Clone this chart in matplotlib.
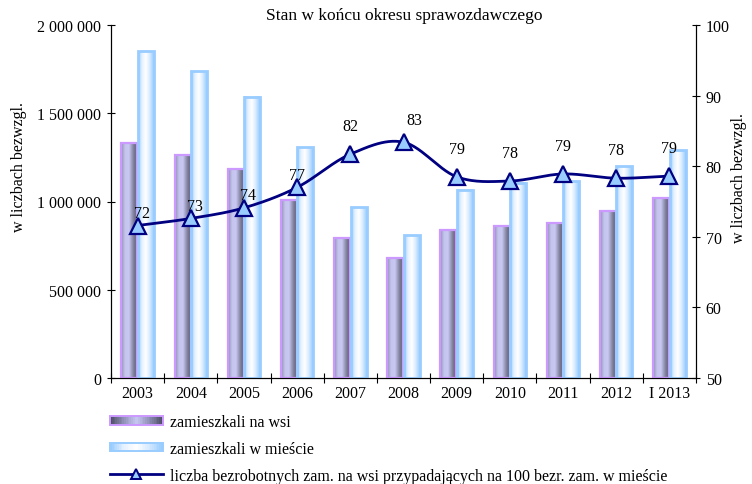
import numpy as np
import matplotlib
matplotlib.use("Agg")
import matplotlib.pyplot as plt
from matplotlib.colors import LinearSegmentedColormap
from matplotlib.patches import Rectangle
from matplotlib.lines import Line2D
from matplotlib.legend_handler import HandlerBase

# ---------------- data ----------------
categories = ["2003", "2004", "2005", "2006", "2007", "2008", "2009", "2010", "2011", "2012", "I 2013"]
rural = [1330000, 1265000, 1184000, 1008000, 791000, 678000, 838000, 863000, 880000, 944000, 1018000]
urban = [1852000, 1739000, 1594000, 1307000, 967000, 810000, 1067000, 1105000, 1114000, 1201000, 1290000]
ratio = [71.6, 72.6, 74.1, 77.0, 81.7, 83.4, 78.5, 77.9, 78.9, 78.3, 78.6]
ratio_labels = ["72", "73", "74", "77", "82", "83", "79", "78", "79", "78", "79"]
left_ticks = [0, 500000, 1000000, 1500000, 2000000]
left_ticklabels = ["0", "500 000", "1 000 000", "1 500 000", "2 000 000"]
right_ticks = [50, 60, 70, 80, 90, 100]

title_top = "ZAMIESZKALI W LATACH 2003 - 2013"
subtitle = "Stan w końcu okresu sprawozdawczego"
ylabel = "w liczbach bezwzgl."
leg_rural = "zamieszkali na wsi"
leg_urban = "zamieszkali w mieście"
leg_ratio = "liczba bezrobotnych zam. na wsi przypadających na 100 bezr. zam. w mieście"

# label offsets (points) for data labels
label_dx = [3, 3, 3, 0, 0, 8, 0, 0, 0, 0, 0]
label_dy = [9, 9, 9, 9, 20, 16, 20, 20, 20, 20, 20]

# ---------------- style ----------------
plt.rcParams['font.family'] = ['Liberation Serif', 'DejaVu Serif']
FS = 11.5
navy = "#000080"
rural_edge = "#cc99ff"
urban_edge = "#99ccff"
rural_cmap = LinearSegmentedColormap.from_list(
    "rur", ["#9090b0", "#c4c4ee", "#c8c8f4", "#8a8aa8", "#5a5a70"])
urban_cmap = LinearSegmentedColormap.from_list(
    "urb", ["#99ccff", "#e6f2ff", "#ffffff", "#d6eaff", "#99ccff"])

fig = plt.figure(figsize=(7.52, 4.85), dpi=100)
ax = fig.add_axes([111/752, 1-379/485, (696-111)/752, (379-26)/485])
ax2 = ax.twinx()

x = np.arange(len(categories))
w = 0.30
grad = np.linspace(0, 1, 64).reshape(1, -1)

def grad_bar(axis, xc, h, cmap, edge, lw):
    x0, x1 = xc - w/2, xc + w/2
    axis.imshow(grad, cmap=cmap, extent=[x0, x1, 0, h], aspect='auto',
                zorder=2, interpolation='bilinear')
    axis.add_patch(Rectangle((x0, 0), w, h, facecolor='none', edgecolor=edge,
                             linewidth=lw, zorder=3))

for i in range(len(categories)):
    grad_bar(ax, x[i] - 0.155, rural[i], rural_cmap, rural_edge, 1.6)
    grad_bar(ax, x[i] + 0.155, urban[i], urban_cmap, urban_edge, 2.0)

ax.set_xlim(-0.5, len(categories) - 0.5)
ax.set_ylim(0, 2000000)
ax.set_yticks(left_ticks)
ax.set_yticklabels(left_ticklabels, fontsize=FS)
ax.set_xticks(x)
ax.set_xticklabels(categories, fontsize=FS)
ax.tick_params(axis='x', length=0, pad=5)
ax.set_xticks(np.arange(-0.5, len(categories), 1.0), minor=True)
ax.tick_params(axis='x', which='minor', length=7, direction='inout', width=0.8)
ax.tick_params(axis='y', length=6, direction='inout', width=0.8, pad=4)
ax.spines['top'].set_visible(False)
ax.set_ylabel(ylabel, fontsize=FS, labelpad=8)
ax.yaxis.set_label_coords(-0.143, 0.6)

# smoothed line (Catmull-Rom through the data points)
def catmull(xs, ys, n=30):
    px = np.concatenate([[2*xs[0]-xs[1]], xs, [2*xs[-1]-xs[-2]]])
    py = np.concatenate([[2*ys[0]-ys[1]], ys, [2*ys[-1]-ys[-2]]])
    ox, oy = [], []
    for k in range(1, len(px) - 2):
        t = np.linspace(0, 1, n)
        for P, out in ((px, ox), (py, oy)):
            p0, p1, p2, p3 = P[k-1], P[k], P[k+1], P[k+2]
            out.extend(0.5*((2*p1) + (-p0+p2)*t + (2*p0-5*p1+4*p2-p3)*t**2
                            + (-p0+3*p1-3*p2+p3)*t**3))
    return np.array(ox), np.array(oy)

cx, cy = catmull(x.astype(float), np.array(ratio, dtype=float))
ax2.plot(cx, cy, color=navy, lw=2.0, zorder=4)
ax2.plot(x, ratio, linestyle='none', marker='^', markersize=11,
         markerfacecolor="#99ccff", markeredgecolor=navy, markeredgewidth=1.6, zorder=5)
for i, lab in enumerate(ratio_labels):
    ax2.annotate(lab, (x[i], ratio[i]), xytext=(label_dx[i], label_dy[i]),
                 textcoords='offset points', ha='center', va='center', fontsize=FS)

ax2.set_ylim(50, 100)
ax2.set_yticks(right_ticks)
ax2.set_yticklabels([str(t) for t in right_ticks], fontsize=FS)
ax2.tick_params(axis='y', length=6, direction='inout', width=0.8, pad=4)
ax2.spines['top'].set_visible(False)
ax2.set_ylabel(ylabel, fontsize=FS, labelpad=8)
ax2.yaxis.set_label_coords(1.06, 0.57)

# titles (first line is cut by the top edge, as in the original)
fig.text(0.52, 1.0 + 0.5/485, title_top, ha='center', va='bottom', fontsize=FS,
         fontweight='bold')
fig.text(404/752, 1-16/485, subtitle, ha='center', va='center', fontsize=12.5)

# legend with gradient patches
class GradHandler(HandlerBase):
    def __init__(self, cmap, edge, lw):
        super().__init__()
        self.cmap, self.edge, self.lw = cmap, edge, lw
    def create_artists(self, legend, orig_handle, xdescent, ydescent, width, height, fontsize, trans):
        arts = []
        n = 30
        hh = height * 0.75
        y0 = -ydescent + (height - hh) / 2
        for k in range(n):
            c = self.cmap(k / (n - 1))
            r = Rectangle((-xdescent + width*k/n, y0), width/n + 0.3, hh,
                          facecolor=c, edgecolor='none', transform=trans)
            arts.append(r)
        arts.append(Rectangle((-xdescent, y0), width, hh, facecolor='none',
                              edgecolor=self.edge, linewidth=self.lw, transform=trans))
        return arts

leg_rural_cmap = LinearSegmentedColormap.from_list(
    "lr", ["#505068", "#9090b8", "#c8c8f4", "#9090b8", "#505068"])
h_r = Rectangle((0, 0), 1, 1)
h_u = Rectangle((0, 0), 1, 1, label="u")
h_l = Line2D([], [], color=navy, lw=2.0, marker='^', markersize=7,
             markerfacecolor="#99ccff", markeredgecolor=navy, markeredgewidth=1.4)
fig.legend([h_r, h_u, h_l], [leg_rural, leg_urban, leg_ratio],
           handler_map={h_r: GradHandler(leg_rural_cmap, rural_edge, 1.4),
                        h_u: GradHandler(urban_cmap, urban_edge, 1.4)},
           loc='upper left', bbox_to_anchor=(110/752, 1-415/485), frameon=False,
           fontsize=FS, handlelength=3.3, handletextpad=0.45, labelspacing=0.68,
           borderaxespad=0, borderpad=0)

fig.savefig("out.png", dpi=100)
